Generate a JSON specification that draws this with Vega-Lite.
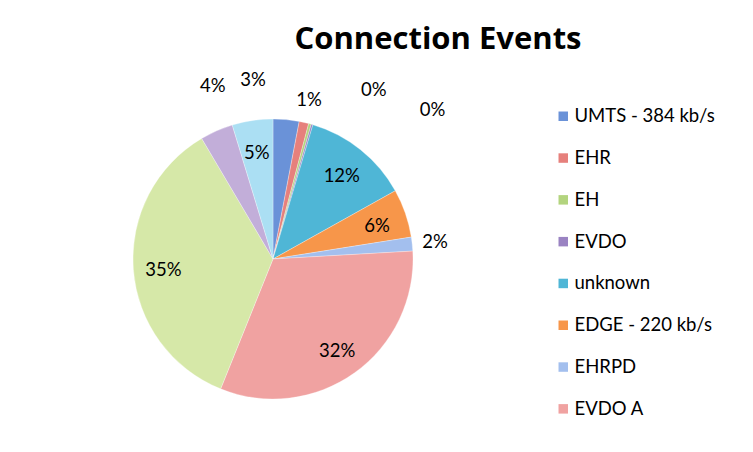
{
  "$schema": "https://vega.github.io/schema/vega-lite/v6.json",
  "autosize": {"type": "none"},
  "width": 280,
  "height": 280,
  "padding": {"left": 133, "top": 119, "right": 340, "bottom": 53},
  "background": "white",
  "config": {"view": {"stroke": null}, "font": "Lato"},
  "title": {
    "text": "Connection Events",
    "font": "Open Sans",
    "fontSize": 31,
    "fontWeight": "bold",
    "color": "#000000",
    "anchor": "middle",
    "frame": "group",
    "dx": 165,
    "baseline": "alphabetic",
    "offset": -18
  },
  "data": {
    "values": [
      {"name": "UMTS - 384 kb/s", "share": 0.030, "order": 1},
      {"name": "EHR", "share": 0.011, "order": 2},
      {"name": "EH", "share": 0.003, "order": 3},
      {"name": "EVDO", "share": 0.002, "order": 4},
      {"name": "unknown", "share": 0.123, "order": 5},
      {"name": "EDGE - 220 kb/s", "share": 0.056, "order": 6},
      {"name": "EHRPD", "share": 0.016, "order": 7},
      {"name": "EVDO A", "share": 0.320, "order": 8},
      {"name": "1xRTT", "share": 0.354, "order": 9},
      {"name": "GPRS", "share": 0.038, "order": 10},
      {"name": "HSDPA", "share": 0.047, "order": 11}
    ]
  },
  "encoding": {
    "theta": {"field": "share", "type": "quantitative", "stack": true},
    "order": {"field": "order", "type": "quantitative"}
  },
  "layer": [
    {
      "mark": {"type": "arc", "outerRadius": 140, "stroke": "white", "strokeWidth": 0.3},
      "encoding": {
        "color": {
          "field": "name",
          "type": "nominal",
          "scale": {
            "domain": ["UMTS - 384 kb/s", "EHR", "EH", "EVDO", "unknown", "EDGE - 220 kb/s", "EHRPD", "EVDO A", "1xRTT", "GPRS", "HSDPA"],
            "range": ["#6a92d8", "#e6807c", "#b3d47e", "#9a83c2", "#4fb6d6", "#f7964a", "#a3bfee", "#f0a2a1", "#d6e8a8", "#c2aed9", "#abdff3"]
          },
          "legend": {
            "values": ["UMTS - 384 kb/s", "EHR", "EH", "EVDO", "unknown", "EDGE - 220 kb/s", "EHRPD", "EVDO A"],
            "title": null,
            "orient": "none",
            "legendX": 421,
            "legendY": -12,
            "symbolType": "square",
            "symbolSize": 90,
            "symbolStrokeWidth": 0,
            "labelFont": "Lato",
            "labelFontSize": 18.5,
            "labelColor": "#000000",
            "labelOffset": 2,
            "rowPadding": 22.8,
            "padding": 0
          }
        }
      }
    },
    {
      "mark": {"type": "text", "radius": 110, "dy": 3, "font": "Lato", "fontSize": 18.5, "color": "#000000"},
      "encoding": {
        "text": {
          "condition": {"test": "datum.share >= 0.045", "field": "share", "format": ".0%"},
          "value": ""
        }
      }
    },
    {
      "mark": {"type": "text", "radius": 163, "font": "Lato", "fontSize": 18.5, "color": "#000000"},
      "encoding": {
        "text": {
          "condition": {"test": "datum.name == 'EHR' || datum.name == 'EHRPD'", "field": "share", "format": ".0%"},
          "value": ""
        }
      }
    },
    {
      "mark": {"type": "text", "radius": 184, "dx": 14, "dy": -5, "font": "Lato", "fontSize": 18.5, "color": "#000000"},
      "encoding": {
        "text": {
          "condition": {"test": "datum.name == 'GPRS'", "field": "share", "format": ".0%"},
          "value": ""
        }
      }
    },
    {
      "mark": {"type": "text", "radius": 170, "dx": -36, "dy": -10, "font": "Lato", "fontSize": 18.5, "color": "#000000"},
      "encoding": {
        "text": {
          "condition": {"test": "datum.name == 'UMTS - 384 kb/s'", "field": "share", "format": ".0%"},
          "value": ""
        }
      }
    },
    {
      "mark": {"type": "text", "radius": 170, "dx": 56, "dy": -5, "font": "Lato", "fontSize": 18.5, "color": "#000000"},
      "encoding": {
        "text": {
          "condition": {"test": "datum.name == 'EH'", "field": "share", "format": ".0%"},
          "value": ""
        }
      }
    },
    {
      "mark": {"type": "text", "radius": 170, "dx": 112, "dy": 14, "font": "Lato", "fontSize": 18.5, "color": "#000000"},
      "encoding": {
        "text": {
          "condition": {"test": "datum.name == 'EVDO'", "field": "share", "format": ".0%"},
          "value": ""
        }
      }
    }
  ]
}
